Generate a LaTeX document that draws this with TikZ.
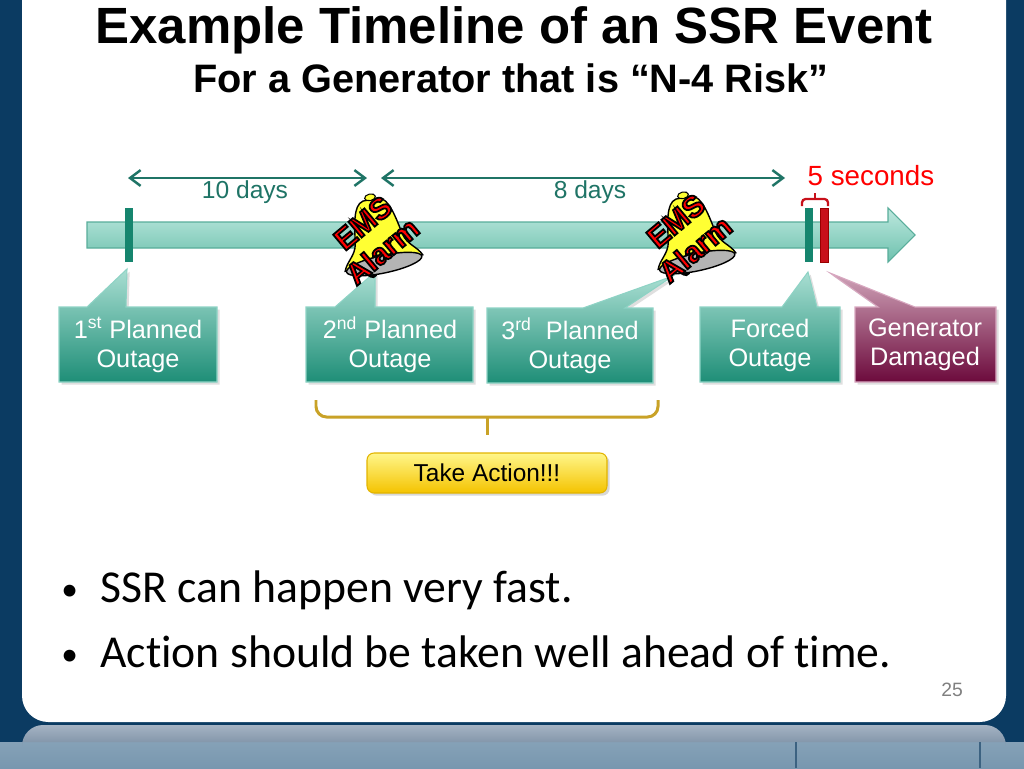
\documentclass[tikz,border=0pt]{standalone}
\usepackage{fontspec}
\setmainfont{Liberation Sans}
\newfontfamily\bulletfont[Ligatures=NoCommon]{Carlito}
\usetikzlibrary{arrows.meta,shadows}

\definecolor{navy}{HTML}{0B3B62}
\definecolor{barlight}{HTML}{BDE8DE}
\definecolor{bardark}{HTML}{6DC1AE}
\definecolor{baredge}{HTML}{58AD9A}
\definecolor{tickteal}{HTML}{16856E}
\definecolor{tickred}{HTML}{C8101A}
\definecolor{boxlight}{HTML}{A9DED2}
\definecolor{boxdark}{HTML}{1E8E77}
\definecolor{boxedge}{HTML}{8ED3C5}
\definecolor{dmglight}{HTML}{CFA3B8}
\definecolor{dmgdark}{HTML}{6C0A3C}
\definecolor{dmgedge}{HTML}{D8A8C0}
\definecolor{daysteal}{HTML}{1F7466}
\definecolor{bracegold}{HTML}{C9A227}
\definecolor{actlight}{HTML}{FFF68A}
\definecolor{actdark}{HTML}{F4C300}
\definecolor{actedge}{HTML}{E2B400}
\definecolor{belly}{HTML}{FFFF33}
\definecolor{bellgray}{HTML}{B4B4B4}
\definecolor{stripl}{HTML}{A5B3C3}
\definecolor{stripm}{HTML}{8497AB}
\definecolor{stripd}{HTML}{7897AF}

% red letters with a black rim
\newcommand{\rimtext}[1]{\special{pdf:literal direct 2 Tr 1 w 0 0 0 RG}#1\special{pdf:literal direct 0 Tr}}

\tikzset{
  callout/.style={top color=boxlight, bottom color=boxdark, draw=boxedge, line width=0.6pt,
    drop shadow={opacity=0.25, shadow xshift=1.5pt, shadow yshift=-1.5pt}},
  dmgcallout/.style={top color=dmglight, bottom color=dmgdark, draw=dmgedge, line width=0.6pt,
    drop shadow={opacity=0.25, shadow xshift=1.5pt, shadow yshift=-1.5pt}},
  boxtext/.style={text=white, align=center, font=\fontsize{14.4}{16.5}\selectfont},
  daytext/.style={text=daysteal, font=\fontsize{14}{16}\selectfont},
  dayarrow/.style={daysteal, line width=1.4pt, {Straight Barb[length=6pt,width=9pt]}-{Straight Barb[length=6pt,width=9pt]}},
  bellword/.style={font=\bfseries\fontsize{17}{18}\selectfont, rotate=40, inner sep=0pt, text=red},
  bullet/.style={anchor=base west, inner sep=0pt, font=\bulletfont\fontsize{26}{30}\selectfont}
}

\begin{document}
\begin{tikzpicture}[x=0.02cm, y=-0.02cm]
   \newcommand{\alarmbell}[2]{%
     \begin{scope}[shift={#1}]
       \begin{scope}[rotate=12, scale=1.1]
         \fill[black] (-12,33) circle (4.5);
         \filldraw[fill=belly, draw=black, line width=0.8pt]
           (-7,-33) .. controls (-17,-31) and (-19,-12) .. (-22,4)
           .. controls (-24,14) and (-33,18) .. (-36,26) -- (36,26)
           .. controls (33,18) and (24,14) .. (22,4)
           .. controls (19,-12) and (17,-31) .. (7,-33) -- cycle;
         \filldraw[fill=bellgray, draw=black, line width=0.8pt] (0,27) ellipse (35 and 8);
         \filldraw[fill=belly, draw=black, line width=0.6pt] (0,-35) ellipse (5 and 3);
       \end{scope}
       \node[bellword] (ems#2) at (-15,-12) {\rimtext{EMS}};
       \node[bellword] (alarm#2) at (4,16) {\rimtext{Alarm}};
     \end{scope}}
   \useasboundingbox (0,0) rectangle (1024,768);
   % slide background
   \fill[navy] (0,0) rectangle (1024,768);
   \fill[white, rounded corners=15] (22,-30) rectangle (1006,722);
   \shade[top color=stripd!90!white, bottom color=stripd] (0,742) rectangle (1024,768);
   \shade[top color=stripl, bottom color=stripm]
     (22,742) {[rounded corners=12] -- (22,725) -- (1006,725)} -- (1006,742) -- cycle;
   \draw[navy!80, line width=1.5pt] (796,742) -- (796,768);
   \draw[navy!80, line width=1.5pt] (980,742) -- (980,768);
   \node[text=gray, font=\fontsize{11}{13}\selectfont] (pagenum) at (952,690) {25};
   % titles
   \node[anchor=base, font=\bfseries\fontsize{29}{34}\selectfont] (title) at (514,43)
     {Example Timeline of an SSR Event};
   \node[anchor=base, font=\bfseries\fontsize{22.6}{26}\selectfont] (subtitle) at (511,92)
     {For a Generator that is “N-4 Risk”};
   % time bar
   \shade[top color=barlight, bottom color=bardark, draw=baredge, line width=0.6pt]
     (87,222) -- (888,222) -- (888,208) -- (915,235) -- (888,262) -- (888,248) -- (87,248) -- cycle;
   \fill[tickteal] (125,208) rectangle (133,262);
   \fill[tickteal] (805,208) rectangle (813,262);
   \filldraw[fill=tickred, draw=red!60!black, line width=0.4pt] (820,208) rectangle (828,262);
   % spans above the bar
   \coordinate (d10a) at (128,178);
   \coordinate (d10b) at (367,178);
   \coordinate (d8a) at (381,178);
   \coordinate (d8b) at (785,178);
   \draw[dayarrow] (d10a) -- (d10b);
   \draw[dayarrow] (d8a) -- (d8b);
   \node[daytext] (days10) at (245,192) {10 days};
   \node[daytext] (days8) at (590,192) {8 days};
   \draw[tickred, line width=1.3pt, rounded corners=2]
     (802,206) -- (802,199) -- (828,199) -- (828,206);
   \draw[tickred, line width=1.3pt] (815,199) -- (815,193);
   \node[text=red, font=\fontsize{15.8}{18}\selectfont] (fivesec) at (871,176) {5 seconds};
   % callouts
   \path[callout] (59,307) -- (87,307) -- (127,269) -- (126,307) -- (217,307)
     -- (217,382) -- (59,382) -- cycle;
   \path[callout] (306,307) -- (335,307) -- (375,272) -- (375,307) -- (473,307)
     -- (473,382) -- (306,382) -- cycle;
   \path[callout] (487,308) -- (583,308) -- (673,276) -- (625,308) -- (653,308)
     -- (653,383) -- (487,383) -- cycle;
   \path[callout] (700,307) -- (782,307) -- (808,272) -- (817,307) -- (840,307)
     -- (840,382) -- (700,382) -- cycle;
   \path[dmgcallout] (855,307) -- (878,307) -- (830,273) -- (915,307) -- (996,307)
     -- (996,382) -- (855,382) -- cycle;
   \node[boxtext] (po1) at (138,345) {1\textsuperscript{st} Planned\\Outage};
   \node[boxtext] (po2) at (390,345) {2\textsuperscript{nd} Planned\\Outage};
   \node[boxtext] (po3) at (570,346) {3\textsuperscript{rd}\ \ Planned\\Outage};
   \node[boxtext] (fo) at (770,345) {Forced\\Outage};
   \node[boxtext] (gd) at (925,345) {Generator\\Damaged};
   % alarms
   \alarmbell{(378,235)}{1}
   \alarmbell{(691,233)}{2}
   % bracket and action
   \coordinate (brl) at (316,400);
   \coordinate (brr) at (658,400);
   \coordinate (brm) at (487,417);
   \coordinate (brt) at (487,435);
   \draw[bracegold, line width=1.7pt, rounded corners=6]
     (brl) -- (316,417) -- (brm) -- (658,417) -- (brr);
   \draw[bracegold, line width=1.7pt] (brm) -- (brt);
   \node[draw=actedge, top color=actlight, bottom color=actdark, rounded corners=4,
     minimum width=240*0.02cm, minimum height=40*0.02cm, line width=0.6pt,
     drop shadow={opacity=0.3, shadow xshift=1.5pt, shadow yshift=-1.5pt},
     font=\fontsize{13.9}{16}\selectfont] (action) at (487,473) {Take Action!!!};
   % bullets
   \node[bullet, font=\bulletfont\fontsize{19}{22}\selectfont] (b1dot) at (61,600) {•};
   \node[bullet] (b1) at (100,602) {SSR can happen very fast.};
   \node[bullet, font=\bulletfont\fontsize{19}{22}\selectfont] (b2dot) at (61,665) {•};
   \node[bullet] (b2) at (100,667) {Action should be taken well ahead of time.};
\end{tikzpicture}
\end{document}
